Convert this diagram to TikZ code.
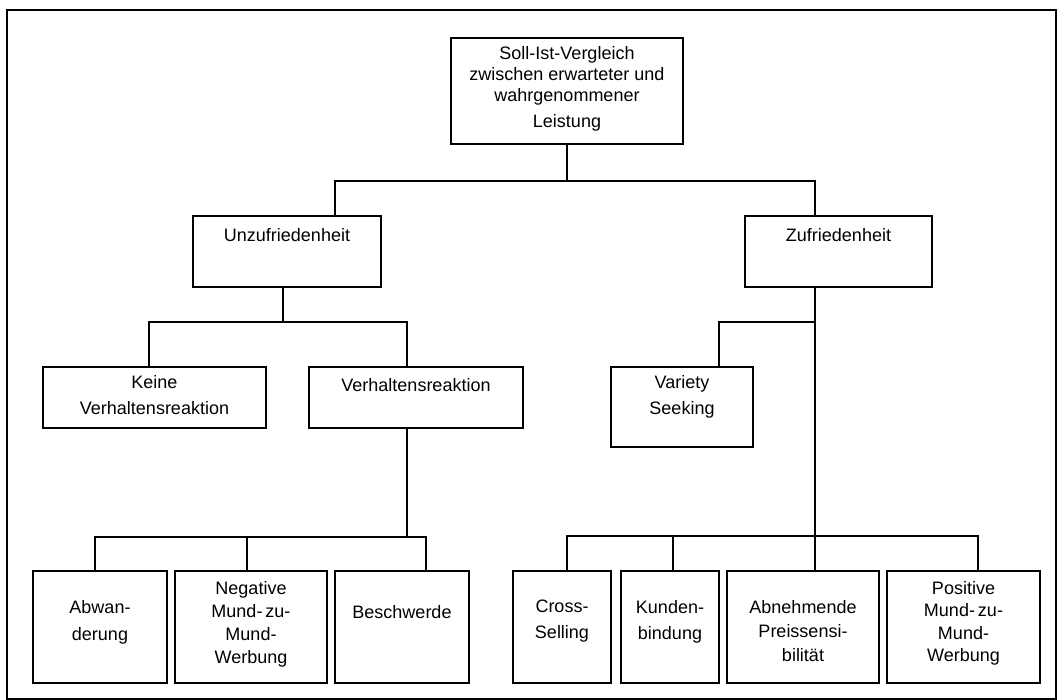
\documentclass[tikz,border=0pt]{standalone}
\usepackage{fontspec}
\setmainfont{Liberation Sans}
\tikzset{
  box/.style={draw, line width=1.6pt, inner sep=0pt, outer sep=0pt},
  txt/.style={anchor=north, align=center, inner sep=0pt, font=\fontsize{18}{#1}\selectfont},
  txt/.default=26,
  conn/.style={line width=1.6pt},
  frame/.style={draw, line width=1.5pt}
}
\begin{document}
\begin{tikzpicture}[x=1pt, y=-1pt]
\useasboundingbox (0,0) rectangle (1058,700);
\draw[frame] (7,10) rectangle (1056,699);
% boxes
\node[box, minimum width=232, minimum height=106] (top) at (567,91) {};
\node[box, minimum width=188, minimum height=71] (unz) at (287,251.5) {};
\node[box, minimum width=187, minimum height=71] (zuf) at (838.5,251.5) {};
\node[box, minimum width=223, minimum height=61] (keine) at (154.5,397.5) {};
\node[box, minimum width=214, minimum height=61] (verh) at (416,397.5) {};
\node[box, minimum width=142, minimum height=80] (variety) at (682,407) {};
\node[box, minimum width=134, minimum height=112] (abw) at (100,627) {};
\node[box, minimum width=152, minimum height=112] (neg) at (251,627) {};
\node[box, minimum width=134, minimum height=112] (besch) at (402,627) {};
\node[box, minimum width=98, minimum height=112] (cross) at (562,627) {};
\node[box, minimum width=98, minimum height=112] (kunden) at (670,627) {};
\node[box, minimum width=152, minimum height=112] (abn) at (803,627) {};
\node[box, minimum width=153, minimum height=112] (pos) at (963.5,627) {};
% texts
\node[txt=21] (ttop) at (567,46) {Soll-Ist-Vergleich\\zwischen erwarteter und\\wahrgenommener\\[5pt]Leistung};
\node[txt] (tunz) at (287,228) {Unzufriedenheit};
\node[txt] (tzuf) at (838.5,228) {Zufriedenheit};
\node[txt=26] (tkeine) at (154.5,375) {Keine\\Verhaltensreaktion};
\node[txt] (tverh) at (416,378) {Verhaltensreaktion};
\node[txt=26] (tvariety) at (682,375) {Variety\\Seeking};
\node[txt=27] (tabw) at (100,600) {Abwan-\\derung};
\node[txt=23] (tneg) at (251,581) {Negative\\Mund-\,zu-\\Mund-\\Werbung};
\node[txt] (tbesch) at (402,605) {Beschwerde};
\node[txt=26] (tcross) at (562,600) {Cross-\\Selling};
\node[txt=26] (tkunden) at (670,600) {Kunden-\\bindung};
\node[txt=24] (tabn) at (803,600) {Abnehmende\\Preissensi-\\bilität};
\node[txt=22.5] (tpos) at (963.5,581) {Positive\\Mund-\,zu-\\Mund-\\Werbung};
% connectors
\draw[conn] (top.south) -- (567,181);
\draw[conn] (unz.north -| 335,0) -- (335,181) -- (815,181) -- (zuf.north -| 815,0);
\draw[conn] (unz.south -| 283,0) -- (283,322);
\draw[conn] (keine.north -| 149,0) -- (149,322) -- (407,322) -- (verh.north -| 407,0);
\draw[conn] (zuf.south -| 815,0) -- (abn.north -| 815,0);
\draw[conn] (variety.north -| 719,0) -- (719,322) -- (815,322);
\draw[conn] (verh.south -| 407,0) -- (407,537);
\draw[conn] (abw.north -| 95,0) -- (95,537) -- (426,537) -- (besch.north -| 426,0);
\draw[conn] (neg.north -| 247,0) -- (247,537);
\draw[conn] (cross.north -| 567,0) -- (567,536) -- (978,536) -- (pos.north -| 978,0);
\draw[conn] (kunden.north -| 673,0) -- (673,536);
\end{tikzpicture}
\end{document}
